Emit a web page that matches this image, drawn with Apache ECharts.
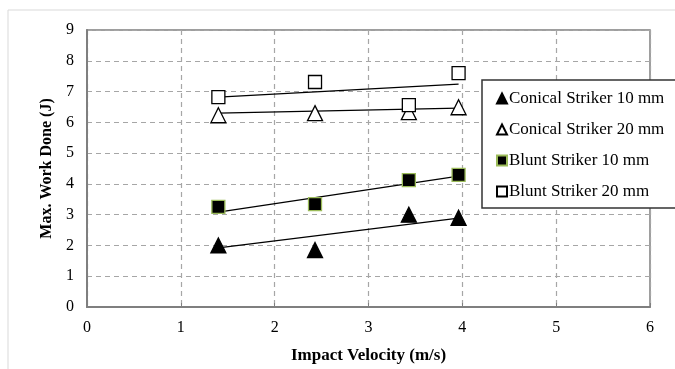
<!DOCTYPE html>
<html>
<head>
<meta charset="utf-8">
<script src="https://cdn.jsdelivr.net/npm/echarts@6/dist/echarts.min.js"></script>
<style>
  html, body { margin: 0; padding: 0; background: #fff; }
  #chart { width: 675px; height: 369px; }
</style>
</head>
<body>
<div id="chart"></div>
<script>
// impact velocities (m/s)
var velocity = [1.4, 2.43, 3.43, 3.96];

// max work done (J)
var conical10 = [2.0, 1.85, 3.0, 2.9];
var conical20 = [6.23, 6.3, 6.33, 6.49];
var blunt10 = [3.25, 3.34, 4.12, 4.29];
var blunt20 = [6.82, 7.31, 6.56, 7.6];

// trend line end points
var trendX = [1.4, 3.96];
var trendConical10 = [1.92, 2.89];
var trendConical20 = [6.3, 6.46];
var trendBlunt10 = [3.08, 4.25];
var trendBlunt20 = [6.82, 7.24];

var names = ['Conical Striker 10 mm', 'Conical Striker 20 mm', 'Blunt Striker 10 mm', 'Blunt Striker 20 mm'];
var xTicks = [0, 1, 2, 3, 4, 5, 6];

function pairs(xs, ys) {
  return xs.map(function (x, i) { return [x, ys[i]]; });
}

var font = 'Liberation Serif';

function pointSeries(name, ys, symbol, size, fill, border) {
  return {
    name: name,
    type: 'scatter',
    data: pairs(velocity, ys),
    symbol: symbol,
    symbolSize: size,
    itemStyle: { color: fill, borderColor: border, borderWidth: 1.3, opacity: 1 },
    z: 5
  };
}

function trendSeries(ys) {
  return {
    type: 'line',
    data: pairs(trendX, ys),
    symbol: 'none',
    silent: true,
    lineStyle: { color: '#000', width: 1.2 },
    z: 4
  };
}

var chart = echarts.init(document.getElementById('chart'));
chart.setOption({
  animation: false,
  backgroundColor: '#fff',
  graphic: [{
    type: 'rect',
    shape: { x: 8, y: 10, width: 700, height: 400 },
    style: { fill: 'none', stroke: '#d9d9d9', lineWidth: 1 },
    z: -1
  }],
  grid: {
    left: 87, right: 25, top: 30, bottom: 62,
    show: true, borderColor: '#7f7f7f', borderWidth: 1.5
  },
  xAxis: {
    type: 'value',
    min: 0, max: 6, interval: 1,
    name: 'Impact Velocity (m/s)',
    nameLocation: 'middle',
    nameGap: 40,
    nameTextStyle: { fontFamily: font, fontSize: 17, fontWeight: 'bold', color: '#000' },
    axisLine: { show: true, lineStyle: { color: '#7f7f7f', width: 2 } },
    axisTick: { show: true, inside: true, length: 4, lineStyle: { color: '#7f7f7f' } },
    axisLabel: {
      margin: 13, fontFamily: font, fontSize: 16, color: '#000',
      formatter: function (v) { return xTicks.indexOf(v) >= 0 ? String(v) : ''; }
    },
    splitLine: { show: true, lineStyle: { color: '#a6a6a6', type: [5, 4], width: 1.2 } }
  },
  yAxis: {
    type: 'value',
    min: 0, max: 9, interval: 1,
    name: 'Max. Work Done (J)',
    nameLocation: 'middle',
    nameGap: 29,
    nameTextStyle: { fontFamily: font, fontSize: 16, fontWeight: 'bold', color: '#000' },
    axisLine: { show: true, lineStyle: { color: '#7f7f7f', width: 2 } },
    axisTick: { show: false },
    axisLabel: { margin: 13, fontFamily: font, fontSize: 16, color: '#000' },
    splitLine: { show: true, lineStyle: { color: '#a6a6a6', type: [5, 4], width: 1.2 } }
  },
  legend: {
    orient: 'vertical',
    left: 482, top: 80,
    data: names,
    backgroundColor: '#fff',
    borderColor: '#333',
    borderWidth: 1.5,
    padding: [10, 30, 8, 14],
    itemWidth: 10, itemHeight: 10,
    itemGap: 14,
    textStyle: { fontFamily: font, fontSize: 17, color: '#000', padding: [0, 0, 0, -3] }
  },
  series: [
    pointSeries(names[0], conical10, 'triangle', 15, '#000', '#000'),
    pointSeries(names[1], conical20, 'triangle', 15, '#fff', '#000'),
    pointSeries(names[2], blunt10, 'rect', 13, '#000', '#9bbb59'),
    pointSeries(names[3], blunt20, 'rect', 13, '#fff', '#000'),
    trendSeries(trendConical10),
    trendSeries(trendConical20),
    trendSeries(trendBlunt10),
    trendSeries(trendBlunt20)
  ]
});
</script>
</body>
</html>
